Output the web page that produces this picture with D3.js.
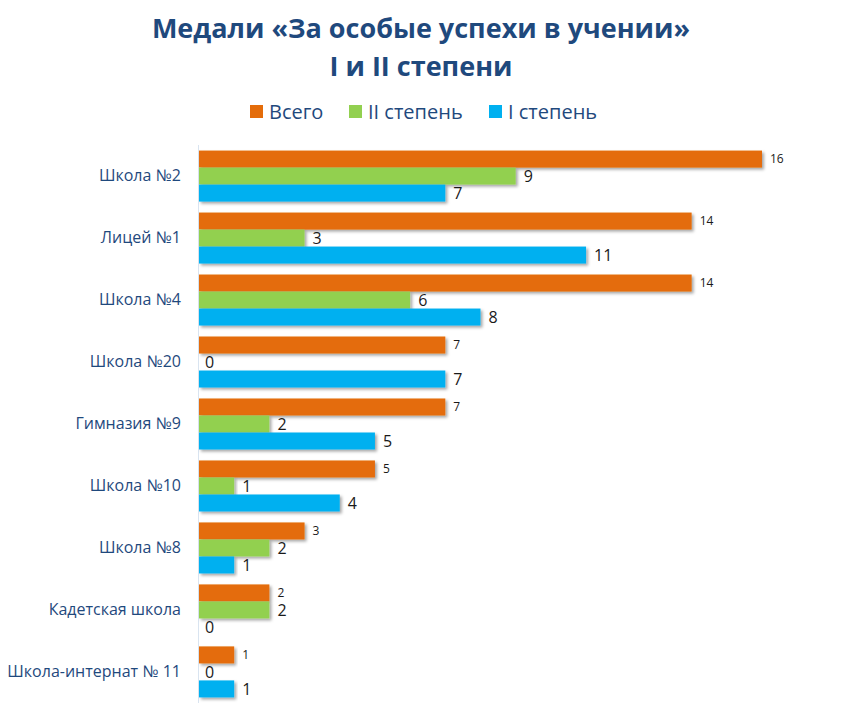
<!DOCTYPE html>
<html>
<head>
<meta charset="utf-8">
<script src="https://cdn.jsdelivr.net/npm/d3@7"></script>
<style>
  body { margin: 0; background: #fff; }
  text { font-family: "Open Sans", "Noto Sans", sans-serif; }
</style>
</head>
<body>
<div id="chart-area"></div>
<script>
// Data
let schools = ["Школа №2", "Лицей №1", "Школа №4", "Школа №20", "Гимназия №9",
    "Школа №10", "Школа №8", "Кадетская школа", "Школа-интернат № 11"];
let total = [16, 14, 14, 7, 7, 5, 3, 2, 1];
let second = [9, 3, 6, 0, 2, 1, 2, 2, 0];
let first = [7, 11, 8, 7, 5, 4, 1, 0, 1];

let seriesNames = ["Всего", "II степень", "I степень"];
let colors = ["#E46C0A", "#92D050", "#00B0F0"];
let seriesValues = [total, second, first];

let width = 844, height = 716;

let svg = d3.select("#chart-area").append("svg")
    .attr("width", width)
    .attr("height", height);

let defs = svg.append("defs");
let shadow = defs.append("filter").attr("id", "shadow")
    .attr("x", "-5%").attr("y", "-20%").attr("width", "115%").attr("height", "160%");
shadow.append("feDropShadow")
    .attr("dx", 2).attr("dy", 2).attr("stdDeviation", 1.5)
    .attr("flood-color", "#000").attr("flood-opacity", 0.35);

// Title
svg.append("text")
    .attr("x", 421).attr("y", 38)
    .attr("text-anchor", "middle")
    .style("font-size", "27px").style("font-weight", "bold")
    .attr("fill", "#1F497D")
    .text("Медали «За особые успехи в учении»");
svg.append("text")
    .attr("x", 421).attr("y", 76)
    .attr("text-anchor", "middle")
    .style("font-size", "27px").style("font-weight", "bold")
    .attr("fill", "#1F497D")
    .text("I и II степени");

// Legend
let legendX = [250, 349, 489];
let legend = svg.selectAll(".legend")
    .data(seriesNames)
    .enter().append("g")
    .attr("class", "legend")
    .attr("transform", (d, i) => "translate(" + legendX[i] + ",105)");
legend.append("rect")
    .attr("width", 13).attr("height", 13)
    .attr("fill", (d, i) => colors[i]);
legend.append("text")
    .attr("x", 19).attr("y", 14)
    .style("font-size", "20px")
    .attr("fill", "#1F497D")
    .text(d => d);

// Scales
let x = d3.scaleLinear()
    .domain([0, 16])
    .range([199, 762]);

let y = d3.scaleBand()
    .domain(schools)
    .range([145, 703])
    .paddingInner(0.177)
    .paddingOuter(0.09);

let ySub = d3.scaleBand()
    .domain(d3.range(3))
    .range([0, y.bandwidth()]);

// Axis line
svg.append("line")
    .attr("x1", x(0) - 0.5).attr("x2", x(0) - 0.5)
    .attr("y1", 145).attr("y2", 703)
    .attr("stroke", "#D9E4F0").attr("stroke-width", 1);

// Category labels
let yAxis = d3.axisLeft(y).tickSize(0).tickPadding(18);
let yAxisGroup = svg.append("g")
    .attr("transform", "translate(" + x(0) + ",0)")
    .call(yAxis);
yAxisGroup.select(".domain").remove();
yAxisGroup.selectAll("text")
    .style("font-size", "16px")
    .attr("fill", "#1F497D");

// Bars
let groups = svg.selectAll(".group")
    .data(schools)
    .enter().append("g")
    .attr("class", "group")
    .attr("transform", d => "translate(0," + y(d) + ")");

groups.each(function (school, si) {
    let g = d3.select(this);
    seriesValues.forEach(function (vals, k) {
        let v = vals[si];
        if (v > 0) {
            g.append("rect")
                .attr("x", x(0))
                .attr("y", ySub(k))
                .attr("width", x(v) - x(0))
                .attr("height", ySub.bandwidth())
                .attr("fill", colors[k])
                .attr("filter", "url(#shadow)");
        }
        g.append("text")
            .attr("x", x(v) + (v > 0 ? 8 : 6))
            .attr("y", ySub(k) + ySub.bandwidth() / 2)
            .attr("dy", k === 0 ? "0.3em" : "0.4em")
            .style("font-size", k === 0 ? "12px" : "16px")
            .attr("fill", "#1a1a1a")
            .text(v);
    });
});
</script>
</body>
</html>
